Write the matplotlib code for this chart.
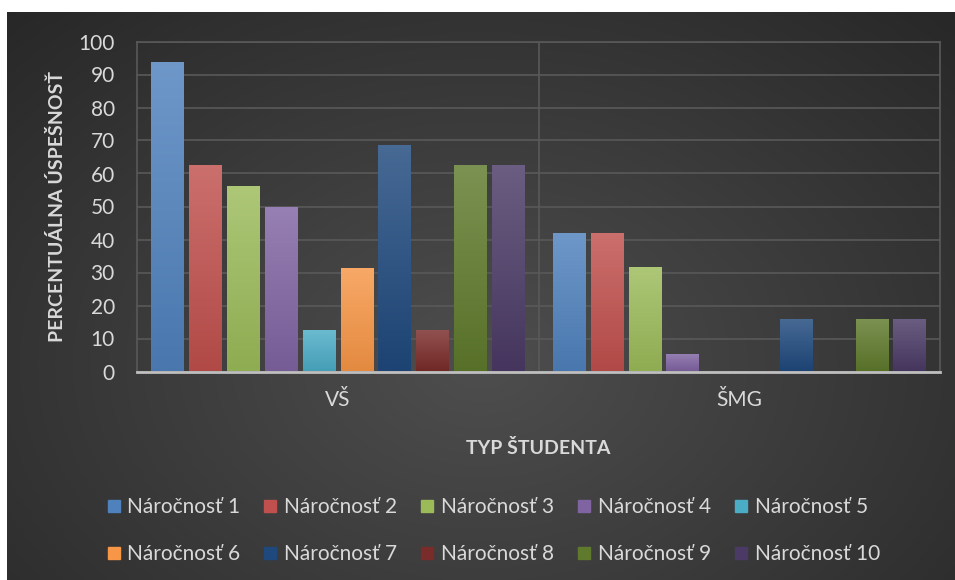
import numpy as np
import matplotlib
matplotlib.use("Agg")
import matplotlib.pyplot as plt
from matplotlib.colors import to_rgb
from matplotlib.lines import Line2D

plt.rcParams['font.family'] = ['Lato', 'DejaVu Sans']

# data
categories = ["VŠ", "ŠMG"]
series = ["Náročnosť %d" % i for i in range(1, 11)]
vs_vals = [93.75, 62.5, 56.25, 50, 12.5, 31.25, 68.75, 12.5, 62.5, 62.5]
smg_vals = [42.1, 42.1, 31.6, 5.3, 0, 0, 15.8, 0, 15.8, 15.8]
colors = ["#4f81bd", "#c0504d", "#9bbb59", "#8064a2", "#4bacc6",
          "#f79646", "#1f497d", "#7a2c2a", "#5f7a2c", "#4b3a66"]
yticks = [0, 10, 20, 30, 40, 50, 60, 70, 80, 90, 100]

txt = "#d9d9d9"
W, H = 955, 580
fig = plt.figure(figsize=(W / 100, H / 100), dpi=100)
fig.patch.set_facecolor("white")

# background panel with radial gradient
bg = fig.add_axes([7 / W, 0, 1 - 7 / W, 1 - 12 / H])
bg.set_axis_off()
yy, xx = np.mgrid[0:1:300j, 0:1:500j]
r = np.sqrt(((xx - 0.5) / 0.75) ** 2 + ((yy - 0.62) / 0.9) ** 2)
r = np.clip(r, 0, 1)
lo = np.array(to_rgb("#4e4e4e"))
hi = np.array(to_rgb("#262626"))
img = lo[None, None, :] * (1 - r[..., None]) + hi[None, None, :] * r[..., None]
bg.imshow(img, aspect="auto", extent=[0, 1, 0, 1], origin="upper")
bg.set_xlim(0, 1)
bg.set_ylim(0, 1)

ax = fig.add_axes([137 / W, (H - 371.5) / H, (940 - 137) / W, (371.5 - 41.5) / H])
ax.patch.set_alpha(0)

n = len(series)
pitch = 0.0942
width = 0.08
x = np.arange(len(categories))
grad = np.linspace(0, 1, 100)[:, None]
for i in range(n):
    vals = [vs_vals[i], smg_vals[i]]
    pos = x + (i - (n - 1) / 2) * pitch
    bars = ax.bar(pos, vals, width, color=colors[i], zorder=3, label=series[i])
    c = np.array(to_rgb(colors[i]))
    top = c + (1 - c) * 0.18
    bot = c * 0.92
    for b in bars:
        h = b.get_height()
        if h <= 0:
            continue
        b.set_facecolor("none")
        g = bot[None, None, :] * (1 - grad[..., None]) + top[None, None, :] * grad[..., None]
        im = ax.imshow(g, extent=[b.get_x(), b.get_x() + b.get_width(), 0, h],
                       origin="lower", aspect="auto", zorder=3)
        im.set_clip_path(b)

ax.set_xlim(-0.5, 1.5)
ax.set_ylim(0, 100)
ax.set_yticks(yticks)
ax.yaxis.grid(True, color="#595959", lw=1.2, zorder=0)
ax.axvline(0.5, color="#595959", lw=1.2, zorder=0)
ax.set_xticks(x)
ax.set_xticklabels(categories)
ax.tick_params(length=0, colors=txt, labelsize=15)
ax.tick_params(axis="x", pad=13)
ax.tick_params(axis="y", pad=16)
for s in ["left", "right", "top"]:
    ax.spines[s].set_color("#595959")
    ax.spines[s].set_linewidth(1.2)
ax.spines["bottom"].set_color("#bfbfbf")
ax.spines["bottom"].set_linewidth(2)
ax.spines["bottom"].set_zorder(4)

ax.set_ylabel("PERCENTUÁLNA ÚSPEŠNOSŤ", color=txt, fontsize=14, fontweight="bold")
ax.yaxis.set_label_coords(-(137 - 66) / (940 - 137), (371.5 - 206) / 330)
ax.set_xlabel("TYP ŠTUDENTA", color=txt, fontsize=14, fontweight="bold")
ax.xaxis.set_label_coords((538 - 137) / (940 - 137), -(439 - 371.5) / 330)

# legend fills row by row like the original
order = [0, 5, 1, 6, 2, 7, 3, 8, 4, 9]
handles = [Line2D([], [], marker="s", ls="", markersize=9, color=colors[k]) for k in order]
labels = [series[k] for k in order]
leg = fig.legend(handles, labels, loc="center", bbox_to_anchor=(493 / W, 1 - 530.5 / H),
                 ncol=5, frameon=False, fontsize=15, labelcolor=txt,
                 handletextpad=0.3, columnspacing=1.1, labelspacing=1.3,
                 handlelength=0.7)

fig.savefig("out.png", dpi=100, facecolor="white")
